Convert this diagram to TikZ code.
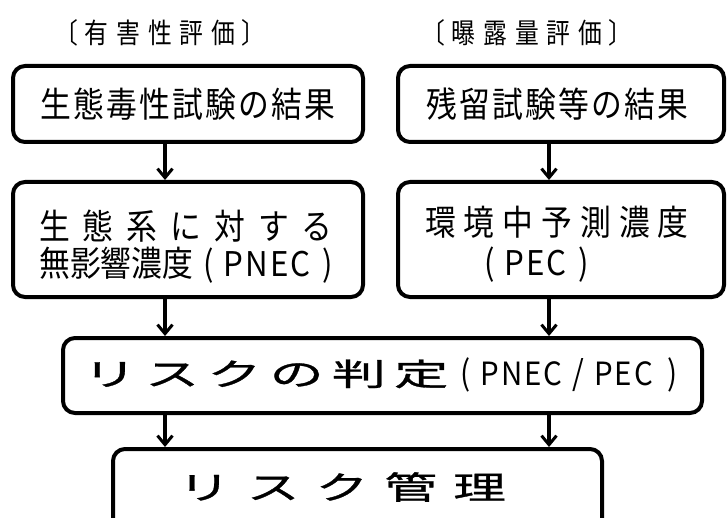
\documentclass[tikz,border=0pt]{standalone}
\usepackage{fontspec}
\usetikzlibrary{arrows.meta}
\newfontfamily\jp{Noto Sans CJK JP}
\newfontfamily\jpt[FakeStretch=0.88]{Noto Sans CJK JP}
\newfontfamily\jph[FakeStretch=0.85]{Noto Sans CJK JP}
\newfontfamily\jpn[FakeStretch=0.92]{Noto Sans CJK JP}
\newfontfamily\jpw[FakeStretch=1.75,FakeBold=1]{Noto Sans CJK JP}
\newfontfamily\jpv[FakeStretch=1.65,FakeBold=1]{Noto Sans CJK JP}
\makeatletter
\newcommand\ls[2]{\def\ls@sk{\hspace{#1}}\ls@a#2\relax}
\def\ls@a#1{\ifx#1\relax\else #1\expandafter\ls@b\fi}
\def\ls@b#1{\ifx#1\relax\else\ls@sk #1\expandafter\ls@b\fi}
\makeatother
\newcommand\lat[2][34]{{\jpn\fontsize{#1}{38}\selectfont\ls{2pt}{#2}}}
\begin{document}
\begin{tikzpicture}[x=1pt,y=-1pt,
  box/.style={draw, line width=4pt, rounded corners=12pt, inner sep=0pt},
  arr/.style={line width=3.5pt, -{Straight Barb[length=9pt,width=15pt,line width=3pt]}},
  ttl/.style={inner sep=0pt, font=\jph\fontsize{28}{30}\selectfont},
  txt/.style={inner sep=0pt, font=\jpt\fontsize{35}{38}\selectfont}]
\useasboundingbox (0,0) rectangle (727,518);
\clip (0,0) rectangle (727,518);
% titles
\node[ttl] (t1) at (160,33) {〔\hspace{6pt}\ls{8pt}{有害性評価}\hspace{6pt}〕};
\node[ttl] (t2) at (527,33) {〔\hspace{6pt}\ls{8pt}{曝露量評価}\hspace{6pt}〕};
% boxes
\node[box, minimum width=350pt, minimum height=76pt] (b1) at (188,104) {};
\node[box, minimum width=326pt, minimum height=76pt] (b2) at (561,104) {};
\node[box, minimum width=350pt, minimum height=115pt] (b3) at (188,239.5) {};
\node[box, minimum width=326pt, minimum height=115pt] (b4) at (561,239.5) {};
\node[box, minimum width=639pt, minimum height=75pt] (b5) at (382.5,375.5) {};
\node[box, minimum width=489pt, minimum height=111pt] (b6) at (357.5,504.5) {};
% texts
\node[txt] (x1) at (188,104) {\ls{2.2pt}{生態毒性試験の結果}};
\node[txt] (x2) at (557,104) {\ls{2.2pt}{残留試験等の結果}};
\node[txt, anchor=west] (x3a) at (39,226) {\ls{13pt}{生態系に対する}};
\node[txt, anchor=west] (x3b) at (39,265) {無影響濃度\hspace{10pt}(\hspace{10pt}\lat{PNEC}\hspace{12pt})};
\node[txt, anchor=west] (x4a) at (425,222) {\ls{8pt}{環境中予測濃度}};
\node[txt, anchor=west] (x4b) at (484,265) {(\hspace{10pt}\lat{PEC}\hspace{12pt})};
\node[inner sep=0pt] (x5) at (380,375) {{\jpw\fontsize{31}{34}\selectfont\ls{8pt}{リスクの判定}}\hspace{12pt}{\jpt\fontsize{34}{38}\selectfont(\hspace{10pt}\lat[32]{PNEC}\hspace{10pt}/\hspace{10pt}\lat[32]{PEC}\hspace{14pt})}};
\node[inner sep=0pt] (x6) at (342,487) {{\jpv\fontsize{32}{34}\selectfont\ls{16pt}{リスク管理}}};
% arrows
\coordinate (xl) at (165,0);
\coordinate (xr) at (549,0);
\draw[arr] (b1.south -| xl) -- (b3.north -| xl);
\draw[arr] (b2.south -| xr) -- (b4.north -| xr);
\draw[arr] (b3.south -| xl) -- (b5.north -| xl);
\draw[arr] (b4.south -| xr) -- (b5.north -| xr);
\draw[arr] (b5.south -| xl) -- (b6.north -| xl);
\draw[arr] (b5.south -| xr) -- (b6.north -| xr);
\end{tikzpicture}
\end{document}
